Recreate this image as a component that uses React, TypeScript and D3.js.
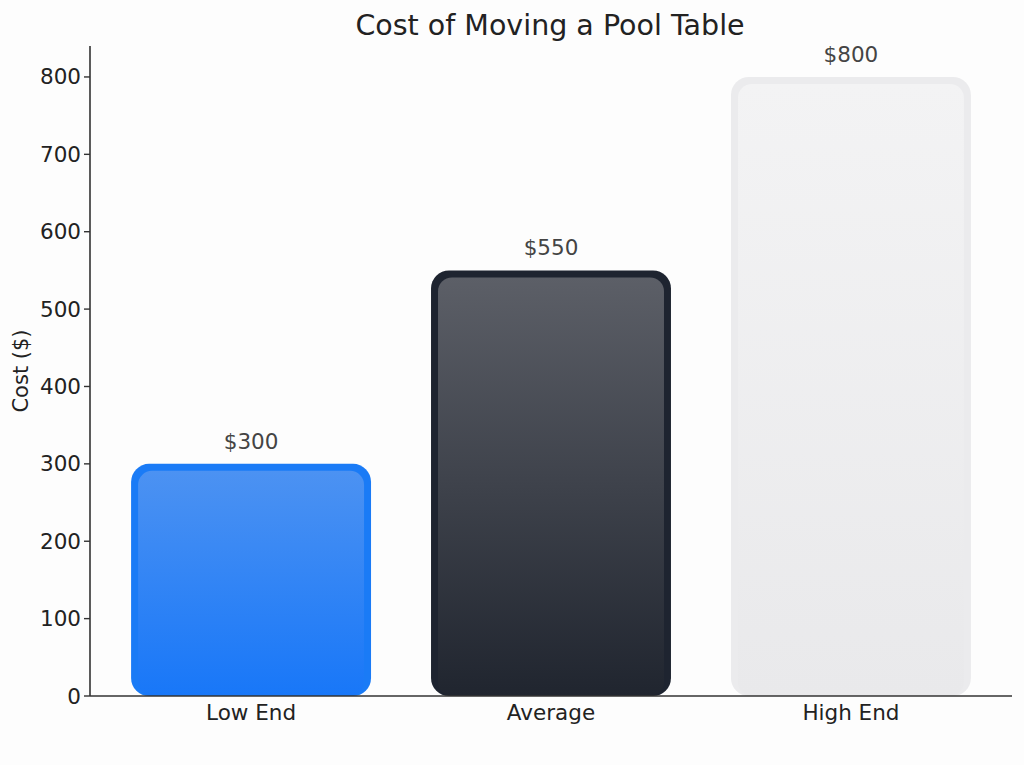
import React from 'react';
import * as d3 from 'd3';

const categories = ['Low End', 'Average', 'High End'];
const costs = [300, 550, 800];
const valueLabels = ['$300', '$550', '$800'];
const yTicks = [0, 100, 200, 300, 400, 500, 600, 700, 800];

// per-bar palette: outer rim, gradient top, gradient bottom
const rimColors = ['#1a7bf6', '#1e2430', '#ebebed'];
const topColors = ['#4c92f2', '#5c5f67', '#f3f3f4'];
const bottomColors = ['#1877f8', '#20252f', '#e9e9eb'];

const W = 1024;
const H = 765;
const margin = { top: 46, right: 12, bottom: 69, left: 90 };
const font = 'DejaVu Sans, sans-serif';

export default function App() {
  const x = d3
    .scaleBand<string>()
    .domain(categories)
    .range([margin.left, W - margin.right])
    .paddingInner(0.2)
    .paddingOuter(0.137);
  const y = d3.scaleLinear().domain([0, 840]).range([H - margin.bottom, margin.top]);
  const y0 = y(0);
  const r = 18;
  const inset = 7;

  return (
    <svg
      width={W}
      height={H}
      viewBox={`0 0 ${W} ${H}`}
      style={{ position: 'absolute', left: 0, top: 0, background: '#fdfdfd' }}
      fontFamily={font}
    >
      <defs>
        {categories.map((c, i) => (
          <linearGradient key={c} id={`grad-${i}`} x1="0" y1="0" x2="0" y2="1">
            <stop offset="0%" stopColor={topColors[i]} />
            <stop offset="100%" stopColor={bottomColors[i]} />
          </linearGradient>
        ))}
      </defs>

      <text x={550} y={35} textAnchor="middle" fontSize={28.5} fill="#222">
        Cost of Moving a Pool Table
      </text>

      {/* bars */}
      {categories.map((c, i) => {
        const bx = x(c) ?? 0;
        const bw = x.bandwidth();
        const by = y(costs[i]);
        const bh = y0 - by;
        return (
          <g key={c}>
            <rect x={bx} y={by} width={bw} height={bh} rx={r} ry={r} fill={rimColors[i]} />
            <rect
              x={bx + inset}
              y={by + inset}
              width={bw - inset * 2}
              height={bh - inset}
              rx={r - 4}
              ry={r - 4}
              fill={`url(#grad-${i})`}
            />
            <text
              x={bx + bw / 2}
              y={by - 15}
              textAnchor="middle"
              fontSize={21.5}
              fill="#444"
            >
              {valueLabels[i]}
            </text>
            <text x={bx + bw / 2} y={y0 + 24} textAnchor="middle" fontSize={21.5} fill="#222">
              {c}
            </text>
          </g>
        );
      })}

      {/* y axis */}
      <line x1={margin.left} x2={margin.left} y1={margin.top} y2={y0} stroke="#333" strokeWidth={1.6} />
      {yTicks.map((t) => (
        <g key={t} transform={`translate(${margin.left},${y(t)})`}>
          <line x1={-6} x2={0} stroke="#333" strokeWidth={1.4} />
          <text x={-9} dy="0.35em" textAnchor="end" fontSize={21.5} fill="#222">
            {t}
          </text>
        </g>
      ))}
      <line x1={margin.left} x2={W - margin.right} y1={y0} y2={y0} stroke="#333" strokeWidth={1.6} />

      <text
        transform={`translate(28,${(margin.top + y0) / 2}) rotate(-90)`}
        textAnchor="middle"
        fontSize={21}
        fill="#222"
      >
        Cost ($)
      </text>
    </svg>
  );
}
